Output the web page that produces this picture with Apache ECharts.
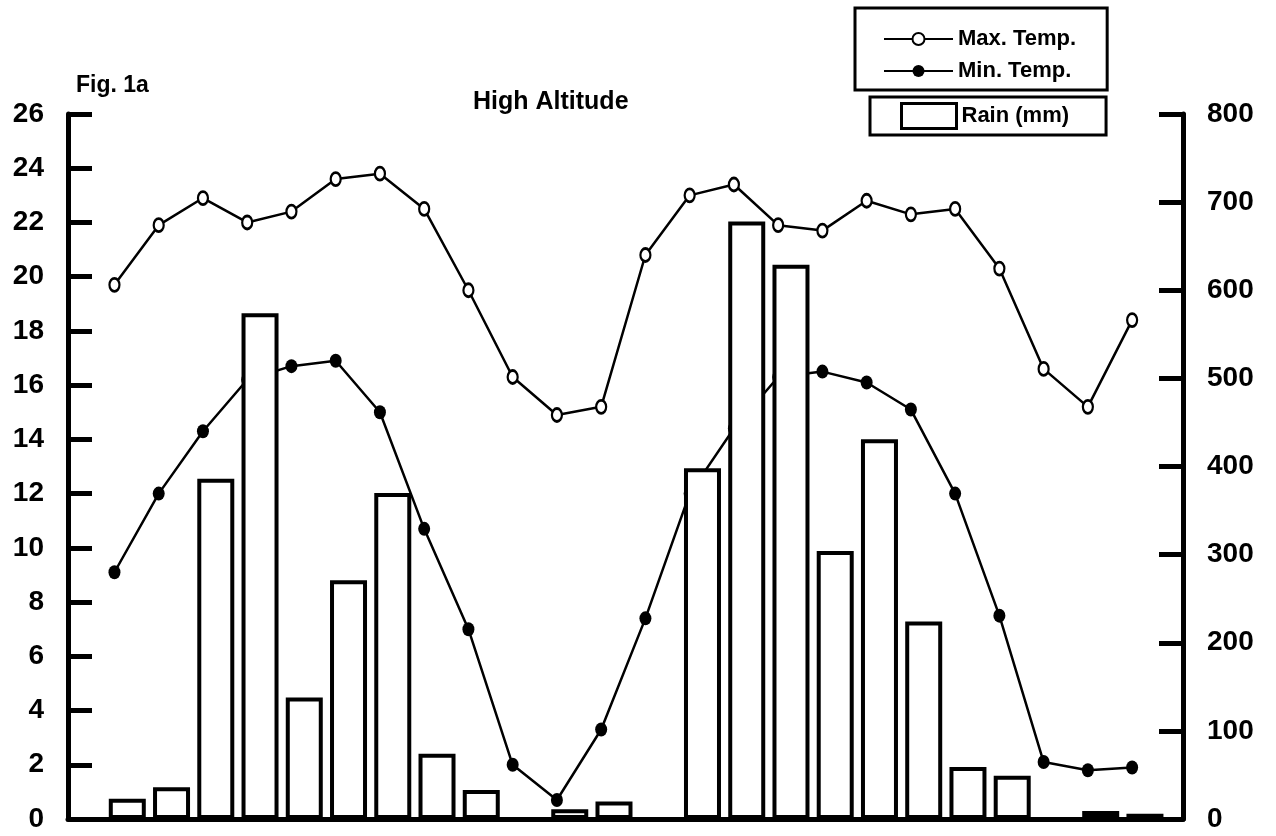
<!DOCTYPE html>
<html>
<head>
<meta charset="utf-8">
<title>Fig. 1a High Altitude</title>
<script src="https://cdn.jsdelivr.net/npm/echarts@6/dist/echarts.min.js"></script>
<style>
  html, body { margin: 0; padding: 0; background: #fff; }
  #chart { width: 1276px; height: 836px; }
</style>
</head>
<body>
<div id="chart"></div>
<script>
// two years of monthly readings
const months = [1, 2, 3, 4, 5, 6, 7, 8, 9, 10, 11, 12, 13, 14, 15, 16, 17, 18, 19, 20, 21, 22, 23, 24]
const maxTemp = [19.7, 21.9, 22.9, 22.0, 22.4, 23.6, 23.8, 22.5, 19.5, 16.3, 14.9, 15.2,
  20.8, 23.0, 23.4, 21.9, 21.7, 22.8, 22.3, 22.5, 20.3, 16.6, 15.2, 18.4]
const minTemp = [9.1, 12.0, 14.3, 16.2, 16.7, 16.9, 15.0, 10.7, 7.0, 2.0, 0.7, 3.3,
  7.4, 12.0, 14.4, 16.3, 16.5, 16.1, 15.1, 12.0, 7.5, 2.1, 1.8, 1.9]
const rain = [23, 36, 386, 574, 138, 271, 370, 74, 33, 0, 11, 20,
  0, 398, 678, 629, 304, 431, 224, 59, 49, 0, 9, 6]

const font = '"Liberation Sans", Arial, sans-serif'
const black = '#000'

let chart = echarts.init(document.getElementById('chart'))

function pairs(values) {
  return months.map((m, i) => [m, values[i]])
}

function yAxisStyle(pos, max, step) {
  return {
    type: 'value',
    position: pos,
    min: 0,
    max: max,
    interval: step,
    axisLine: { show: true, onZero: false, lineStyle: { color: black, width: 5 } },
    axisTick: { show: true, inside: true, length: 24, lineStyle: { color: black, width: 5 } },
    axisLabel: { color: black, fontSize: 28, fontWeight: 'bold', fontFamily: font, margin: 24 },
    splitLine: { show: false }
  }
}

chart.setOption({
  animation: false,
  backgroundColor: '#fff',
  title: [{
    text: 'Fig. 1a',
    left: 76,
    top: 74,
    padding: 0,
    textStyle: { fontSize: 23, fontWeight: 'bold', fontFamily: font, color: black }
  }, {
    text: 'High Altitude',
    left: 473,
    top: 90,
    padding: 0,
    textStyle: { fontSize: 25, fontWeight: 'bold', fontFamily: font, color: black }
  }],
  legend: [{
    data: ['Max. Temp.', 'Min. Temp.'],
    orient: 'vertical',
    left: 855,
    top: 8,
    padding: [20, 31, 8, 28],
    itemGap: 10,
    itemWidth: 69,
    itemHeight: 15,
    borderColor: black,
    borderWidth: 3,
    selectedMode: false,
    textStyle: { fontSize: 22, fontWeight: 'bold', fontFamily: font, color: black, lineHeight: 22 }
  }, {
    data: ['Rain (mm)'],
    icon: 'rect',
    left: 870,
    top: 97,
    padding: [5, 37, 5, 30],
    itemWidth: 55,
    itemHeight: 25,
    borderColor: black,
    borderWidth: 3,
    selectedMode: false,
    itemStyle: { color: '#fff', borderColor: black, borderWidth: 3 },
    textStyle: { fontSize: 22, fontWeight: 'bold', fontFamily: font, color: black }
  }],
  grid: {
    left: 68,
    right: 93,
    top: 114,
    bottom: 17,
    containLabel: false
  },
  xAxis: [{
    type: 'value',
    min: -0.05,
    max: 25.15,
    axisLine: { show: true, onZero: false, lineStyle: { color: black, width: 5 } },
    axisTick: { show: false },
    axisLabel: { show: false },
    splitLine: { show: false }
  }, {
    // bars sit a little right of the temperature points
    type: 'value',
    min: -0.34,
    max: 24.86,
    show: false,
    splitLine: { show: false }
  }],
  yAxis: [
    yAxisStyle('left', 26, 2),
    yAxisStyle('right', 800, 100)
  ],
  series: [{
    name: 'Max. Temp.',
    type: 'line',
    data: pairs(maxTemp),
    symbol: 'circle',
    symbolSize: [10, 13],
    lineStyle: { color: black, width: 2.5 },
    itemStyle: { color: '#fff', borderColor: black, borderWidth: 2.5 },
    z: 2
  }, {
    name: 'Min. Temp.',
    type: 'line',
    data: pairs(minTemp),
    symbol: 'circle',
    symbolSize: [12, 14],
    lineStyle: { color: black, width: 2.5 },
    itemStyle: { color: black, borderColor: black, borderWidth: 0 },
    z: 2
  }, {
    name: 'Rain (mm)',
    type: 'bar',
    xAxisIndex: 1,
    yAxisIndex: 1,
    data: pairs(rain),
    barWidth: 37,
    itemStyle: { color: '#fff', borderColor: black, borderWidth: 4 },
    z: 3
  }]
})
</script>
</body>
</html>
